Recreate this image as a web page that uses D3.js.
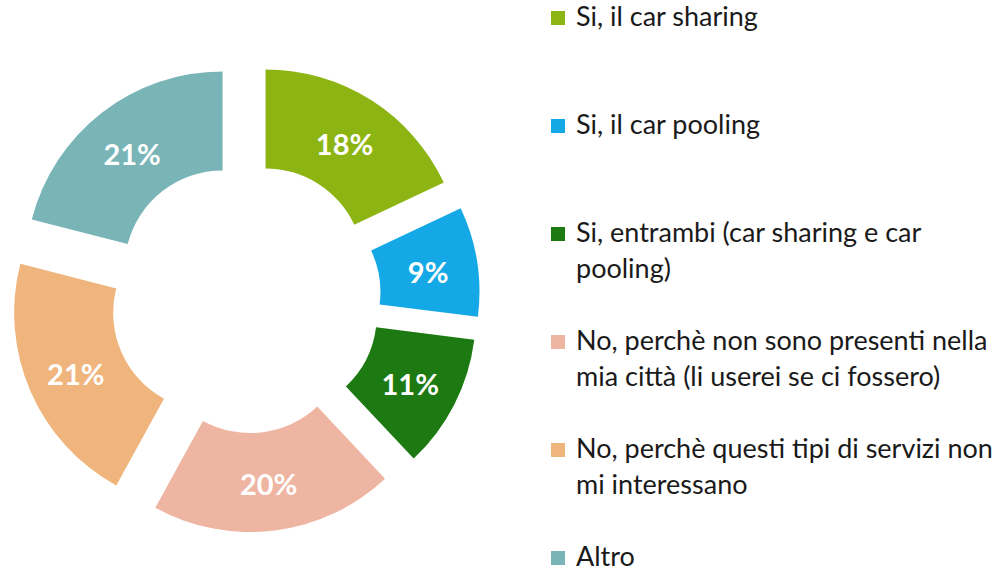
<!DOCTYPE html>
<html><head><meta charset="utf-8">
<script src="https://cdn.jsdelivr.net/npm/d3@7"></script>
<style>body{margin:0;background:#fff;overflow:hidden}</style>
</head><body>
<svg id="chart" width="1001" height="575"></svg>
<script>
const categories = [
  "Si, il car sharing",
  "Si, il car pooling",
  "Si, entrambi (car sharing e car pooling)",
  "No, perchè non sono presenti nella mia città (li userei se ci fossero)",
  "No, perchè questi tipi di servizi non mi interessano",
  "Altro"
];
const values = [18, 9, 11, 20, 21, 21];
const valueLabels = ["18%", "9%", "11%", "20%", "21%", "21%"];
const legendLines = [
  ["Si, il car sharing"],
  ["Si, il car pooling"],
  ["Si, entrambi (car sharing e car", "pooling)"],
  ["No, perchè non sono presenti nella", "mia città (li userei se ci fossero)"],
  ["No, perchè questi tipi di servizi non", "mi interessano"],
  ["Altro"]
];
const colors = ["#8cb514", "#14a9e6", "#1d7a12", "#eeb5a2", "#efb57d", "#79b4b7"];

const svg = d3.select("#chart");
const cx = 245.5, cy = 298, R = 197, r = 98, explode = 37.4;

const pie = d3.pie().sort(null).value(d => d.value).startAngle(0).endAngle(2 * Math.PI);
const arc = d3.arc().innerRadius(r).outerRadius(R);
const data = values.map((v, i) => ({ value: v, label: valueLabels[i], color: colors[i], name: categories[i] }));
const arcs = pie(data);

const g = svg.append("g").attr("transform", `translate(${cx},${cy})`);
const slices = g.selectAll("g.slice").data(arcs).join("g")
  .attr("class", "slice")
  .attr("transform", d => {
    const a = (d.startAngle + d.endAngle) / 2;
    return `translate(${Math.sin(a) * explode},${-Math.cos(a) * explode})`;
  });
slices.append("path").attr("d", arc).attr("fill", d => d.data.color);
slices.append("text")
  .attr("transform", d => { const c = arc.centroid(d); return `translate(${c[0]},${c[1] + 3})`; })
  .attr("text-anchor", "middle")
  .attr("dy", "0.36em")
  .attr("fill", "#ffffff")
  .attr("font-family", "Lato, 'Open Sans', sans-serif")
  .attr("font-weight", "bold")
  .attr("font-size", 29)
  .text(d => d.data.label);

// Legend
const lx = 551, tx = 576, ly0 = 17, lstep = 108, lineH = 36;
const lg = svg.append("g");
const items = lg.selectAll("g.item").data(legendLines).join("g")
  .attr("class", "item")
  .attr("transform", (d, i) => `translate(0,${ly0 + i * lstep})`);
items.append("rect")
  .attr("x", lx).attr("y", -6).attr("width", 14).attr("height", 14)
  .attr("fill", (d, i) => colors[i]);
const texts = items.append("text")
  .attr("font-family", "Lato, 'Open Sans', sans-serif")
  .attr("fill", "#1a1a1a")
  .attr("font-size", 24);
texts.selectAll("tspan").data(d => d).join("tspan")
  .attr("x", tx)
  .attr("y", (d, j) => j * lineH)
  .attr("dy", "0.35em")
  .text(d => d);

// fit font size so the widest legend line spans the same width as the reference
let maxW = 0;
texts.selectAll("tspan").each(function () { maxW = Math.max(maxW, this.getComputedTextLength()); });
const targetW = 417;
texts.attr("font-size", 24 * targetW / maxW);
</script>
</body></html>
